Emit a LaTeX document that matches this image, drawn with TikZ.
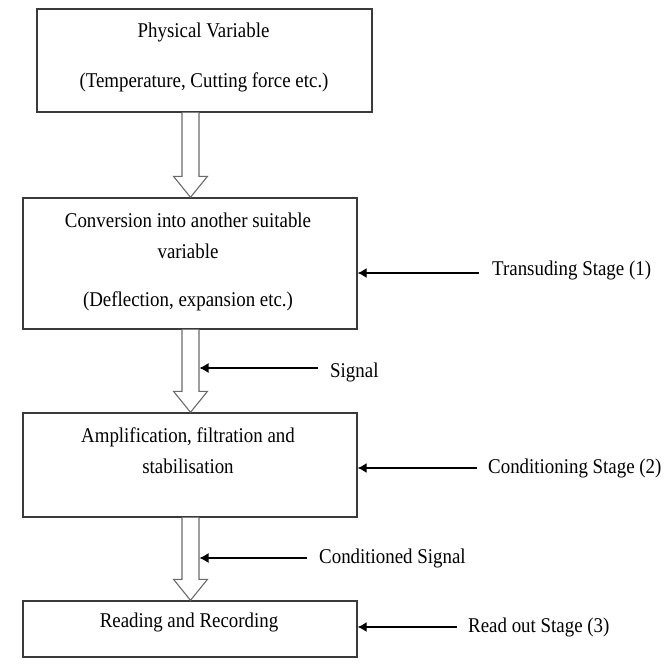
\documentclass[tikz,border=0pt]{standalone}
\usepackage{fontspec}
\setmainfont[FakeStretch=0.9]{Liberation Serif}
\usetikzlibrary{arrows.meta,calc}
\definecolor{boxline}{HTML}{3A3A3A}
\definecolor{hollow}{HTML}{6A6A6A}
\begin{document}
\begin{tikzpicture}[x=1pt,y=-1pt,
  font=\fontsize{21}{25}\selectfont,
  box/.style={draw=boxline,line width=1.4pt,fill=white,rectangle,inner sep=0pt},
  txt/.style={anchor=base,inner sep=0pt},
  lab/.style={anchor=base west,inner sep=0pt},
  larrow/.style={draw=black,line width=1.2pt,-{Latex[length=9pt,width=10pt]}},
  harrow/.style={draw=hollow,line width=1.1pt,fill=white,line join=miter}]
\useasboundingbox (0,0) rectangle (665,667);
% boxes
\node[box,minimum width=335pt,minimum height=103pt] (b1) at (204.5,60.5) {};
\node[box,minimum width=334pt,minimum height=131pt] (b2) at (190,263.5) {};
\node[box,minimum width=334pt,minimum height=104pt] (b3) at (190,465) {};
\node[box,minimum width=334pt,minimum height=56pt] (b4) at (190,629) {};
% box texts
\node[txt] (t1a) at (203.5,37) {Physical Variable};
\node[txt] (t1b) at (204,87) {(Temperature, Cutting force etc.)};
\node[txt] (t2a) at (188,227) {Conversion into another suitable};
\node[txt] (t2b) at (188,258) {variable};
\node[txt] (t2c) at (188,306) {(Deflection, expansion etc.)};
\node[txt] (t3a) at (188,442) {Amplification, filtration and};
\node[txt] (t3b) at (188,473) {stabilisation};
\node[txt] (t4a) at (189,627) {Reading and Recording};
% hollow arrows
\coordinate (ax) at (190.5,0);
\foreach \s/\t in {b1/b2,b2/b3,b3/b4}{
  \draw[harrow] ($(\s.south -| ax)+(-8.5,0)$) -- ($(\t.north -| ax)+(-8.5,-21)$)
    -- ($(\t.north -| ax)+(-17,-21)$) -- (\t.north -| ax)
    -- ($(\t.north -| ax)+(17,-21)$) -- ($(\t.north -| ax)+(8.5,-21)$)
    -- ($(\s.south -| ax)+(8.5,0)$);
}
% labels
\node[lab] (lsig) at (330,377) {Signal};
\node[lab] (lcsig) at (319,563) {Conditioned Signal};
\node[lab] (ls1) at (492,275) {Transuding Stage (1)};
\node[lab] (ls2) at (488,473) {Conditioning Stage (2)};
\node[lab] (ls3) at (468,632) {Read out Stage (3)};
% label arrow ends
\coordinate (sig) at (199.5,368);
\coordinate (csig) at (199.5,558);
\coordinate (y1) at (0,273);
\coordinate (y2) at (0,468);
\coordinate (y3) at (0,627);
\draw[larrow] ($(lsig.west |- sig)+(-12,0)$) -- (sig);
\draw[larrow] ($(lcsig.west |- csig)+(-12,0)$) -- (csig);
\draw[larrow] ($(ls1.west |- y1)+(-13,0)$) -- (b2.east |- y1);
\draw[larrow] ($(ls2.west |- y2)+(-11,0)$) -- (b3.east |- y2);
\draw[larrow] ($(ls3.west |- y3)+(-11,0)$) -- (b4.east |- y3);
\end{tikzpicture}
\end{document}
